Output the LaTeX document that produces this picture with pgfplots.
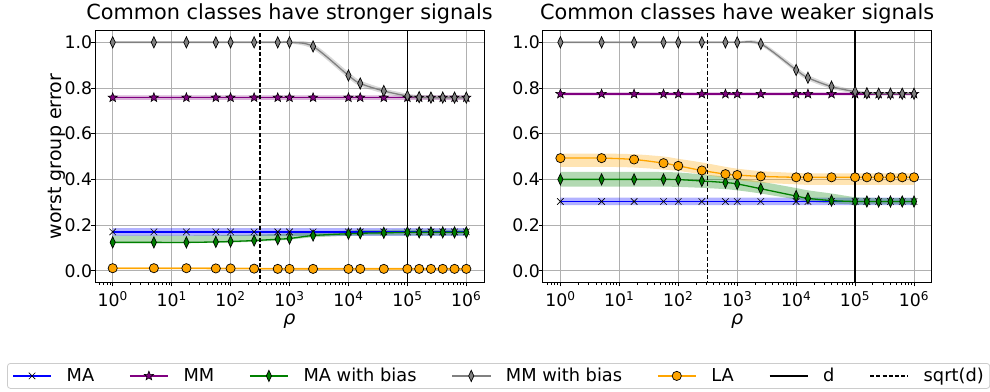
\documentclass[border=0pt]{standalone}
\usepackage{fontspec}
\setmainfont{DejaVu Sans}
\usepackage{pgfplots}
\pgfplotsset{compat=1.18}
\usepackage{pgfplotstable}
\usepgfplotslibrary{fillbetween}

\definecolor{cMA}{RGB}{0,0,255}
\definecolor{cMM}{RGB}{128,0,128}
\definecolor{cMAb}{RGB}{0,128,0}
\definecolor{cMMb}{RGB}{128,128,128}
\definecolor{cLA}{RGB}{255,165,0}
\definecolor{gridc}{RGB}{176,176,176}
\definecolor{legc}{RGB}{204,204,204}

% filled five-pointed star
\pgfdeclareplotmark{fstar}{%
  \pgfpathmoveto{\pgfpointpolar{90}{\pgfplotmarksize}}%
  \pgfpathlineto{\pgfpointpolar{126}{0.42\pgfplotmarksize}}%
  \pgfpathlineto{\pgfpointpolar{162}{\pgfplotmarksize}}%
  \pgfpathlineto{\pgfpointpolar{198}{0.42\pgfplotmarksize}}%
  \pgfpathlineto{\pgfpointpolar{234}{\pgfplotmarksize}}%
  \pgfpathlineto{\pgfpointpolar{270}{0.42\pgfplotmarksize}}%
  \pgfpathlineto{\pgfpointpolar{306}{\pgfplotmarksize}}%
  \pgfpathlineto{\pgfpointpolar{342}{0.42\pgfplotmarksize}}%
  \pgfpathlineto{\pgfpointpolar{18}{\pgfplotmarksize}}%
  \pgfpathlineto{\pgfpointpolar{54}{0.42\pgfplotmarksize}}%
  \pgfpathclose\pgfusepathqfillstroke}

\newcommand\tenp[1]{10\textsuperscript{#1}}

% ---------- stronger signals ----------
\pgfplotstableread{
x y lo hi
1 0.170 0.153 0.186
5 0.170 0.153 0.186
17.8 0.170 0.153 0.186
56.2 0.170 0.153 0.186
100 0.170 0.153 0.186
251 0.170 0.153 0.186
631 0.170 0.153 0.186
1000 0.170 0.153 0.186
2512 0.170 0.153 0.186
10000 0.170 0.153 0.186
15849 0.170 0.153 0.186
39811 0.170 0.153 0.186
100000 0.170 0.153 0.186
158489 0.170 0.153 0.186
251189 0.170 0.153 0.186
398107 0.170 0.153 0.186
630957 0.170 0.153 0.186
1000000 0.170 0.153 0.186
}\LMA
\pgfplotstableread{
x y lo hi
1 0.758 0.748 0.768
5 0.758 0.748 0.768
17.8 0.758 0.748 0.768
56.2 0.758 0.748 0.768
100 0.758 0.748 0.768
251 0.758 0.748 0.768
631 0.758 0.748 0.768
1000 0.758 0.748 0.768
2512 0.758 0.748 0.768
10000 0.758 0.748 0.768
15849 0.758 0.748 0.768
39811 0.758 0.748 0.768
100000 0.758 0.748 0.768
158489 0.758 0.748 0.768
251189 0.758 0.748 0.768
398107 0.758 0.748 0.768
630957 0.758 0.748 0.768
1000000 0.758 0.748 0.768
}\LMM
\pgfplotstableread{
x y lo hi
1 0.124 0.121 0.154
5 0.124 0.121 0.154
17.8 0.124 0.121 0.154
56.2 0.126 0.122 0.155
100 0.128 0.123 0.156
251 0.132 0.127 0.158
631 0.138 0.132 0.161
1000 0.141 0.136 0.163
2512 0.154 0.146 0.168
10000 0.162 0.153 0.176
15849 0.164 0.154 0.178
39811 0.166 0.155 0.179
100000 0.168 0.155 0.180
158489 0.168 0.155 0.180
251189 0.168 0.155 0.180
398107 0.168 0.155 0.180
630957 0.168 0.155 0.180
1000000 0.168 0.155 0.180
}\LMAb
\pgfplotstableread{
x y lo hi
1 1.000 0.995 1.005
5 1.000 0.995 1.005
17.8 1.000 0.995 1.005
56.2 1.000 0.995 1.005
100 1.000 0.995 1.005
251 1.000 0.995 1.005
631 1.000 0.995 1.005
1000 1.000 0.995 1.005
2512 0.982 0.970 0.994
10000 0.855 0.842 0.870
15849 0.820 0.808 0.833
39811 0.787 0.776 0.798
100000 0.765 0.756 0.775
158489 0.760 0.752 0.769
251189 0.758 0.750 0.767
398107 0.758 0.750 0.767
630957 0.758 0.750 0.767
1000000 0.758 0.750 0.767
}\LMMb
\pgfplotstableread{
x y lo hi
1 0.011 0.006 0.016
5 0.011 0.006 0.016
17.8 0.011 0.006 0.016
56.2 0.010 0.005 0.015
100 0.010 0.005 0.015
251 0.009 0.004 0.014
631 0.008 0.003 0.013
1000 0.008 0.003 0.013
2512 0.008 0.003 0.013
10000 0.008 0.003 0.013
15849 0.008 0.003 0.013
39811 0.008 0.003 0.013
100000 0.008 0.003 0.013
158489 0.008 0.003 0.013
251189 0.008 0.003 0.013
398107 0.008 0.003 0.013
630957 0.008 0.003 0.013
1000000 0.008 0.003 0.013
}\LLA

% ---------- weaker signals ----------
\pgfplotstableread{
x y lo hi
1 0.303 0.287 0.320
5 0.303 0.287 0.320
17.8 0.303 0.287 0.320
56.2 0.303 0.287 0.320
100 0.303 0.287 0.320
251 0.303 0.287 0.320
631 0.303 0.287 0.320
1000 0.303 0.287 0.320
2512 0.303 0.287 0.320
10000 0.303 0.287 0.320
15849 0.303 0.287 0.320
39811 0.303 0.287 0.320
100000 0.303 0.287 0.320
158489 0.303 0.287 0.320
251189 0.303 0.287 0.320
398107 0.303 0.287 0.320
630957 0.303 0.287 0.320
1000000 0.303 0.287 0.320
}\RMA
\pgfplotstableread{
x y lo hi
1 0.774 0.768 0.781
5 0.774 0.768 0.781
17.8 0.774 0.768 0.781
56.2 0.774 0.768 0.781
100 0.774 0.768 0.781
251 0.774 0.768 0.781
631 0.774 0.768 0.781
1000 0.774 0.768 0.781
2512 0.774 0.768 0.781
10000 0.774 0.768 0.781
15849 0.774 0.768 0.781
39811 0.774 0.768 0.781
100000 0.774 0.768 0.781
158489 0.774 0.768 0.781
251189 0.774 0.768 0.781
398107 0.774 0.768 0.781
630957 0.774 0.768 0.781
1000000 0.774 0.768 0.781
}\RMM
\pgfplotstableread{
x y lo hi
1 0.400 0.368 0.433
5 0.400 0.368 0.433
17.8 0.400 0.368 0.433
56.2 0.400 0.368 0.432
100 0.399 0.367 0.430
251 0.393 0.363 0.422
631 0.386 0.357 0.412
1000 0.380 0.352 0.405
2512 0.359 0.338 0.390
10000 0.327 0.312 0.362
15849 0.317 0.303 0.352
39811 0.307 0.295 0.338
100000 0.303 0.290 0.322
158489 0.303 0.290 0.320
251189 0.303 0.290 0.318
398107 0.303 0.290 0.318
630957 0.303 0.290 0.318
1000000 0.303 0.290 0.318
}\RMAb
\pgfplotstableread{
x y lo hi
1 1.000 0.996 1.004
5 1.000 0.996 1.004
17.8 1.000 0.996 1.004
56.2 1.000 0.996 1.004
100 1.000 0.996 1.004
251 1.000 0.996 1.004
631 1.000 0.996 1.004
1000 1.000 0.996 1.004
2512 0.993 0.985 1.002
10000 0.879 0.868 0.892
15849 0.845 0.834 0.857
39811 0.806 0.796 0.816
100000 0.784 0.776 0.792
158489 0.777 0.770 0.784
251189 0.775 0.769 0.782
398107 0.775 0.769 0.782
630957 0.775 0.769 0.782
1000000 0.775 0.769 0.782
}\RMMb
\pgfplotstableread{
x y lo hi
1 0.493 0.455 0.513
5 0.493 0.455 0.513
17.8 0.487 0.452 0.510
56.2 0.471 0.443 0.500
100 0.459 0.437 0.490
251 0.439 0.422 0.474
631 0.423 0.405 0.455
1000 0.419 0.397 0.447
2512 0.413 0.386 0.436
10000 0.409 0.378 0.428
15849 0.409 0.376 0.426
39811 0.409 0.376 0.426
100000 0.409 0.376 0.426
158489 0.409 0.376 0.426
251189 0.409 0.376 0.426
398107 0.409 0.376 0.426
630957 0.409 0.376 0.426
1000000 0.409 0.376 0.426
}\RLA

% shaded spread around a curve
\newcommand\band[3]{%
  \addplot[draw=none, smooth, name path=#3u, forget plot] table[x=x,y=hi]{#1};
  \addplot[draw=none, smooth, name path=#3l, forget plot] table[x=x,y=lo]{#1};
  \addplot[fill=#2, fill opacity=0.3, draw=none, forget plot] fill between[of=#3u and #3l];
}

\pgfplotsset{
  every axis/.append style={
    scale only axis, width=389bp, height=252bp, anchor=south west,
    xmin=0.501, xmax=1995262, ymin=-0.0525, ymax=1.051,
    xtick={1,10,100,1000,10000,100000,1000000},
    xticklabels={\tenp{0},\tenp{1},\tenp{2},\tenp{3},\tenp{4},\tenp{5},\tenp{6}},
    minor xtick={0.6,0.7,0.8,0.9,2,3,4,5,6,7,8,9,20,30,40,50,60,70,80,90,
      200,300,400,500,600,700,800,900,2000,3000,4000,5000,6000,7000,8000,9000,
      20000,30000,40000,50000,60000,70000,80000,90000,
      200000,300000,400000,500000,600000,700000,800000,900000},
    ytick={0,0.2,0.4,0.6,0.8,1.0},
    yticklabels={0.0,0.2,0.4,0.6,0.8,1.0},
    xtick pos=bottom, ytick pos=left, tick align=outside,
    major tick length=3.6bp, minor tick length=2.2bp,
    tick style={black, line width=0.9bp},
    minor tick style={black, line width=0.7bp},
    grid=major, major grid style={gridc, line width=1bp},
    axis line style={black, line width=1bp},
    ticklabel style={font=\fontsize{17.3bp}{20bp}\selectfont},
    yticklabel style={inner xsep=1bp, xshift=2bp},
    xticklabel style={yshift=-1.5bp},
    label style={font=\fontsize{19bp}{22bp}\selectfont},
    title style={font=\fontsize{20.8bp}{24bp}\selectfont, at={(0.5,1)}, anchor=base, yshift=5bp},
    xlabel={\itshape ρ},
  },
  sMA/.style={cMA, line width=1.3bp, smooth, mark=x, mark size=4.6bp, mark options={draw=black, line width=0.6bp, solid}},
  sMM/.style={cMM, line width=1.3bp, smooth, mark=fstar, mark size=4.8bp, mark options={draw=black, fill=cMM, line width=0.6bp, solid}},
  sMAb/.style={cMAb, line width=1.3bp, smooth, mark=diamond*, mark size=5.6bp, mark options={xscale=0.62, draw=black, fill=cMAb, line width=0.7bp, solid}},
  sMMb/.style={cMMb, line width=1.3bp, smooth, mark=diamond*, mark size=5.6bp, mark options={xscale=0.62, draw=black, fill=cMMb, line width=0.7bp, solid}},
  sLA/.style={cLA, line width=1.3bp, smooth, mark=*, mark size=4.6bp, mark options={draw=black, fill=cLA, line width=0.7bp, solid}},
  sD/.style={black, line width=1.3bp},
  sSD/.style={black, line width=1.2bp, dash pattern=on 4bp off 2.2bp},
}

\begin{document}
\begin{tikzpicture}

\begin{semilogxaxis}[at={(95bp,109.3bp)},
  title={Common classes have stronger signals},
  ylabel={worst group error}, ylabel shift=-5bp,
  legend columns=7, legend cell align=left,
  legend image code/.code={\draw[mark repeat=2,mark phase=2,#1] plot coordinates {(0bp,0bp) (19bp,0bp) (38bp,0bp)};},
  legend style={at={(-0.2262,-0.3187)}, anchor=north west,
    draw=legc, line width=0.8bp, rounded corners=3bp, fill=white,
    inner xsep=5bp, inner ysep=3bp,
    font=\fontsize{17.8bp}{21bp}\selectfont,
    nodes={inner xsep=1bp, inner ysep=2bp},
    /tikz/every odd column/.append style={column sep=14bp},
    /tikz/every even column/.append style={column sep=34bp}},
]
\band{\LMA}{cMA}{a1}
\addplot[sMA] table[x=x,y=y]{\LMA};
\addlegendentry{MA}
\band{\LMM}{cMM}{b1}
\addplot[sMM] table[x=x,y=y]{\LMM};
\addlegendentry{MM}
\band{\LMAb}{cMAb}{c1}
\addplot[sMAb] table[x=x,y=y]{\LMAb};
\addlegendentry{MA with bias}
\band{\LMMb}{cMMb}{d1}
\addplot[sMMb] table[x=x,y=y]{\LMMb};
\addlegendentry{MM with bias}
\band{\LLA}{cLA}{e1}
\addplot[sLA] table[x=x,y=y]{\LLA};
\addlegendentry{LA}
\addplot[sD] coordinates {(100000,-0.2) (100000,1.2)};
\addlegendentry{d}
\addplot[sSD] coordinates {(316.23,-0.2) (316.23,1.2)};
\addlegendentry{sqrt(d)}
\end{semilogxaxis}

\begin{semilogxaxis}[at={(542.7bp,109.3bp)},
  title={Common classes have weaker signals},
]
\band{\RMA}{cMA}{a2}
\addplot[sMA] table[x=x,y=y]{\RMA};
\band{\RMM}{cMM}{b2}
\addplot[sMM] table[x=x,y=y]{\RMM};
\band{\RMAb}{cMAb}{c2}
\addplot[sMAb] table[x=x,y=y]{\RMAb};
\band{\RMMb}{cMMb}{d2}
\addplot[sMMb] table[x=x,y=y]{\RMMb};
\band{\RLA}{cLA}{e2}
\addplot[sLA] table[x=x,y=y]{\RLA};
\addplot[sD] coordinates {(100000,-0.2) (100000,1.2)};
\addplot[sSD] coordinates {(316.23,-0.2) (316.23,1.2)};
\end{semilogxaxis}

% page frame
\pgfresetboundingbox
\useasboundingbox (0,0) rectangle (990bp,392bp);
\end{tikzpicture}
\end{document}
